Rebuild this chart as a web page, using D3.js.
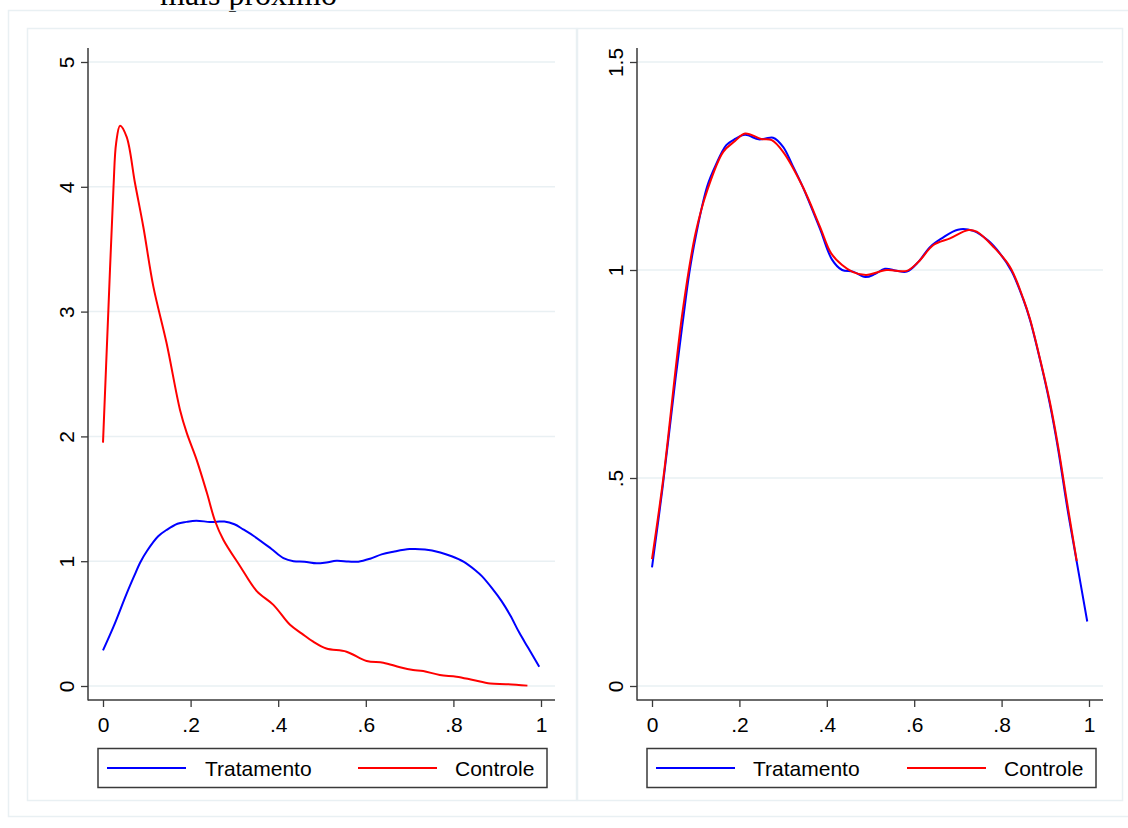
<!DOCTYPE html>
<html>
<head>
<meta charset="utf-8">
<script src="https://cdn.jsdelivr.net/npm/d3@7"></script>
<style>
html,body{margin:0;padding:0;background:#fff;}
svg{display:block;}
</style>
</head>
<body>
<svg id="chart" width="1128" height="828"></svg>
<script>
// ---------- data ----------
const seriesNames = ["Tratamento", "Controle"];
const xTicks = [0, 0.2, 0.4, 0.6, 0.8, 1];
const xTickLabels = ["0", ".2", ".4", ".6", ".8", "1"];
const yTicksLeft = [0, 1, 2, 3, 4, 5];
const yTickLabelsLeft = ["0", "1", "2", "3", "4", "5"];
const yTicksRight = [0, 0.5, 1, 1.5];
const yTickLabelsRight = ["0", ".5", "1", "1.5"];

// Treatment density (same in both panels)
const tratX = [0, 0.024, 0.054, 0.071, 0.085, 0.1, 0.126, 0.145, 0.17, 0.19, 0.213, 0.244, 0.26, 0.277, 0.3, 0.32, 0.345, 0.384, 0.412, 0.435, 0.46, 0.488, 0.51, 0.533, 0.56, 0.583, 0.61, 0.636, 0.663, 0.7, 0.735, 0.77, 0.796, 0.823, 0.85, 0.865, 0.888, 0.91, 0.93, 0.95, 0.97, 0.996];
const tratY = [0.285, 0.475, 0.74, 0.88, 0.99, 1.08, 1.2, 1.25, 1.3, 1.315, 1.325, 1.314, 1.316, 1.318, 1.296, 1.255, 1.2, 1.1, 1.025, 1.0, 0.996, 0.983, 0.99, 1.003, 0.998, 0.996, 1.02, 1.055, 1.076, 1.097, 1.094, 1.07, 1.04, 0.997, 0.928, 0.88, 0.784, 0.68, 0.565, 0.43, 0.31, 0.155];

// Control density, unmatched (left panel)
const contX = [0, 0.012, 0.024, 0.03, 0.039, 0.054, 0.073, 0.092, 0.115, 0.145, 0.176, 0.191, 0.214, 0.237, 0.256, 0.275, 0.313, 0.351, 0.389, 0.427, 0.454, 0.48, 0.51, 0.556, 0.602, 0.64, 0.678, 0.708, 0.731, 0.769, 0.807, 0.845, 0.884, 0.92, 0.969];
const contY = [1.95, 2.99, 4.0, 4.35, 4.49, 4.4, 4.03, 3.68, 3.2, 2.75, 2.21, 2.03, 1.81, 1.55, 1.32, 1.17, 0.96, 0.76, 0.65, 0.49, 0.42, 0.355, 0.3, 0.275, 0.2, 0.187, 0.15, 0.128, 0.12, 0.088, 0.075, 0.048, 0.02, 0.015, 0.003];

// Control density, matched (right panel)
const contMX = [0, 0.026, 0.07, 0.1, 0.126, 0.163, 0.19, 0.213, 0.25, 0.274, 0.3, 0.345, 0.384, 0.41, 0.435, 0.46, 0.49, 0.537, 0.583, 0.61, 0.644, 0.682, 0.724, 0.743, 0.781, 0.819, 0.85, 0.865, 0.888, 0.91, 0.93, 0.95, 0.972];
const contMY = [0.305, 0.5, 0.9, 1.09, 1.19, 1.284, 1.31, 1.328, 1.315, 1.312, 1.284, 1.2, 1.105, 1.04, 1.012, 0.995, 0.988, 1.0, 0.998, 1.02, 1.06, 1.076, 1.096, 1.092, 1.056, 1.008, 0.93, 0.882, 0.786, 0.685, 0.572, 0.44, 0.3];

const colors = ["#0000ff", "#ff0000"];

// ---------- drawing ----------
const svg = d3.select("#chart");
const font = "'Liberation Sans', Arial, sans-serif";
const gridColor = "#e9f0f3";
const axisColor = "#3a3a3a";

// document caption fragment
svg.append("text").attr("x", 160).attr("y", 5)
  .attr("font-family", "'Liberation Serif', 'Times New Roman', serif")
  .attr("font-size", 32).attr("fill", "#000").text("mais próximo");

// outer graph region border
svg.append("rect").attr("x", 8.5).attr("y", 10.5).attr("width", 1125).attr("height", 806)
  .attr("fill", "none").attr("stroke", gridColor).attr("stroke-width", 1.5);

const panels = [
  {left: 27, right: 576, axX: 88, axRight: 555, x0: 103, x1: 541, yTicks: yTicksLeft, yLabels: yTickLabelsLeft, yMax: 5,
   series: [[tratX, tratY], [contX, contY]], legX: 98, legW: 449, legLine: [[107,186,205],[358,437,455]]},
  {left: 577, right: 1122, axX: 637, axRight: 1103, x0: 652, x1: 1089, yTicks: yTicksRight, yLabels: yTickLabelsRight, yMax: 1.5,
   series: [[tratX, tratY], [contMX, contMY]], legX: 647, legW: 449, legLine: [[656,735,753],[907,986,1004]]}
];

panels.forEach(p => {
  const g = svg.append("g");
  // sub-graph region border
  g.append("rect").attr("x", p.left + 0.5).attr("y", 28.5).attr("width", p.right - p.left).attr("height", 772)
    .attr("fill", "none").attr("stroke", gridColor).attr("stroke-width", 1.5);

  const x = d3.scaleLinear().domain([0, 1]).range([p.x0, p.x1]);
  const y = d3.scaleLinear().domain([0, p.yMax]).range([686, 62]);

  // gridlines
  g.append("g").selectAll("line").data(p.yTicks).join("line")
    .attr("x1", p.axX).attr("x2", p.axRight)
    .attr("y1", d => y(d)).attr("y2", d => y(d))
    .attr("stroke", gridColor).attr("stroke-width", 1.5);

  // y axis
  const yAxis = d3.axisLeft(y).tickValues(p.yTicks).tickSize(7).tickSizeOuter(0)
    .tickFormat((d, i) => p.yLabels[i]);
  const ya = g.append("g").attr("transform", `translate(${p.axX},0)`).call(yAxis);
  ya.select(".domain").remove();
  ya.selectAll(".tick line").attr("stroke", axisColor).attr("stroke-width", 1.3);
  ya.selectAll(".tick text")
    .attr("x", null).attr("dy", "0.36em")
    .attr("transform", "translate(-22,0) rotate(-90)")
    .attr("text-anchor", "middle")
    .attr("font-family", font).attr("font-size", 21).attr("fill", "#000");
  g.append("line").attr("x1", p.axX).attr("x2", p.axX).attr("y1", 48).attr("y2", 700.5)
    .attr("stroke", axisColor).attr("stroke-width", 1.5);

  // x axis
  const xAxis = d3.axisBottom(x).tickValues(xTicks).tickSize(7).tickSizeOuter(0)
    .tickFormat((d, i) => xTickLabels[i]);
  const xa = g.append("g").attr("transform", "translate(0,700)").call(xAxis);
  xa.select(".domain").remove();
  xa.selectAll(".tick line").attr("stroke", axisColor).attr("stroke-width", 1.3);
  xa.selectAll(".tick text").attr("y", 32).attr("dy", null)
    .attr("font-family", font).attr("font-size", 21).attr("fill", "#000");
  g.append("line").attr("x1", p.axX).attr("x2", p.axRight).attr("y1", 700).attr("y2", 700)
    .attr("stroke", axisColor).attr("stroke-width", 1.5);

  // curves
  const line = d3.line().x(d => x(d[0])).y(d => y(d[1])).curve(d3.curveCatmullRom.alpha(0.5));
  p.series.forEach((s, i) => {
    const pts = s[0].map((xv, k) => [xv, s[1][k]]);
    g.append("path").datum(pts).attr("d", line)
      .attr("fill", "none").attr("stroke", colors[i]).attr("stroke-width", 2)
      .attr("stroke-linejoin", "round");
  });

  // legend
  g.append("rect").attr("x", p.legX).attr("y", 748.5).attr("width", p.legW).attr("height", 39)
    .attr("fill", "#fff").attr("stroke", axisColor).attr("stroke-width", 1.5);
  seriesNames.forEach((name, i) => {
    const L = p.legLine[i];
    g.append("line").attr("x1", L[0]).attr("x2", L[1]).attr("y1", 768).attr("y2", 768)
      .attr("stroke", colors[i]).attr("stroke-width", 2);
    g.append("text").attr("x", L[2]).attr("y", 776).attr("font-family", font)
      .attr("font-size", 21).attr("fill", "#000").text(name);
  });
});
</script>
</body>
</html>
